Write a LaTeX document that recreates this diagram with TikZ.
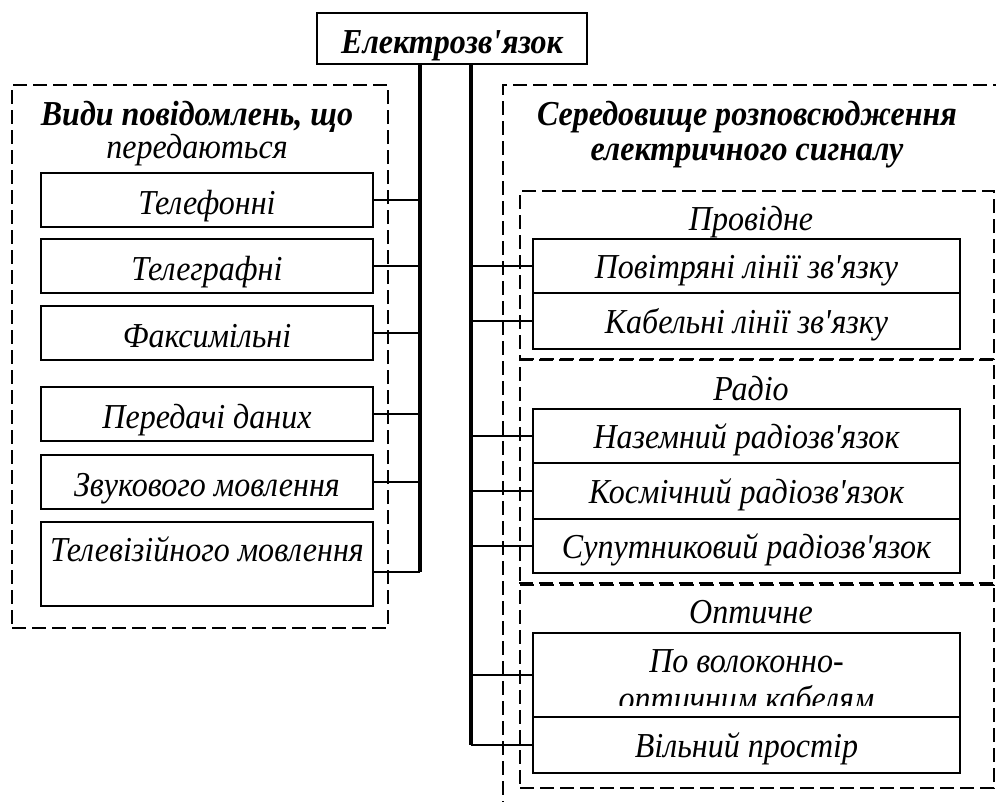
\documentclass[tikz,border=0pt]{standalone}
\usepackage{fontspec}
\setmainfont{Liberation Serif}[FakeStretch=0.915]
\newcommand{\schrift}{\fontsize{35}{35}\selectfont}
\tikzset{kasten/.style = {
    shape=rectangle, draw=black, line width=1.8pt, fill=white,
    inner sep=0pt, font=\schrift\itshape
}}
\tikzset{links/.style = {kasten, minimum width=332pt, minimum height=54pt,
    text height=32pt, text depth=4pt}}
\tikzset{rechts/.style = {kasten, minimum width=427pt, minimum height=54pt,
    text height=30pt, text depth=6pt}}
\tikzset{gruppe/.style = {
    shape=rectangle, draw=black, line width=1.5pt,
    dash pattern=on 14pt off 6pt
}}
\tikzset{titel/.style = {font=\schrift\bfseries\itshape, align=center, anchor=base}}
\tikzset{beschrift/.style = {font=\schrift\itshape, align=center, anchor=base}}
\tikzset{ast/.style = {line width=4.5pt}}
\tikzset{zweig/.style = {line width=1.8pt}}

\begin{document}
\begin{tikzpicture}[x=1pt,y=-1pt]
  \useasboundingbox (0,0) rectangle (996,801);
  \clip (0,0) rectangle (996,801);
  % Gruppen
  \node (gl) at (200,356.5) [gruppe, minimum width=376pt, minimum height=543pt] {};
  \node (gr) at (756.5,450) [gruppe, minimum width=507pt, minimum height=730pt] {};
  \node (prov) at (757,275) [gruppe, minimum width=474pt, minimum height=168pt] {};
  \node (radio) at (757,472.5) [gruppe, minimum width=474pt, minimum height=225pt] {};
  \node (opt) at (757,685.5) [gruppe, minimum width=474pt, minimum height=205pt] {};
  \node (tl) at (197,158) [titel] {Види повідомлень, що\\[-2pt]\mdseries передаються};
  \node (tr) at (747,160) [titel] {Середовище розповсюдження\\електричного сигналу};
  \node (lprov) at (751,230) [beschrift] {Провідне};
  \node (lradio) at (751,400) [beschrift] {Радіо};
  \node (lopt) at (751,623) [beschrift] {Оптичне};
  % Kopf und Stämme
  \node (ek) at (452,38.5) [kasten, line width=2pt, minimum width=270pt, minimum height=51pt,
    text height=31pt, text depth=2pt, font=\schrift\bfseries\itshape] {Електрозв\textquotesingle язок};
  \coordinate (sl) at (420,572);
  \coordinate (sr) at (471,745);
  \draw[ast] (ek.south -| sl) -- (sl);
  \draw[ast] (ek.south -| sr) -- (sr);
  % linke Seite
  \node (tel) at (207,200) [links] {Телефонні};
  \node (tlg) at (207,266) [links] {Телеграфні};
  \node (fax) at (207,333) [links] {Факсимільні};
  \node (dat) at (207,414) [links] {Передачі даних};
  \node (zvuk) at (207,482) [links] {Звукового мовлення};
  \node (tv) at (207,564) [links, minimum height=84pt, text height=24pt, text depth=30pt] {Телевізійного мовлення};
  \draw[zweig] (tel.east) -- (tel.east -| sl);
  \draw[zweig] (tlg.east) -- (tlg.east -| sl);
  \draw[zweig] (fax.east) -- (fax.east -| sl);
  \draw[zweig] (dat.east) -- (dat.east -| sl);
  \draw[zweig] (zvuk.east) -- (zvuk.east -| sl);
  \draw[zweig] (tv.east |- sl) -- (sl);
  % rechte Seite
  \node (pov) at (746.5,266) [rechts] {Повітряні лінії зв\textquotesingle язку};
  \node (kab) at (746.5,321) [rechts, minimum height=56pt] {Кабельні лінії зв\textquotesingle язку};
  \node (naz) at (746.5,436) [rechts] {Наземний радіозв\textquotesingle язок};
  \node (kos) at (746.5,491) [rechts, minimum height=56pt] {Космічний радіозв\textquotesingle язок};
  \node (sup) at (746.5,546) [rechts] {Супутниковий радіозв\textquotesingle язок};
  \node (volo) at (746.5,675) [rechts, minimum height=84pt] {};
  \begin{scope}
    \clip (533,633) rectangle (960,705);
    \node (volotext) at (746.5,710) [beschrift] {По волоконно-\\[3pt]оптичним кабелям};
  \end{scope}
  \node (vil) at (746.5,745) [rechts, minimum height=56pt] {Вільний простір};
  \draw[zweig] (pov.west -| sr) -- (pov.west);
  \draw[zweig] (kab.west -| sr) -- (kab.west);
  \draw[zweig] (naz.west -| sr) -- (naz.west);
  \draw[zweig] (kos.west -| sr) -- (kos.west);
  \draw[zweig] (sup.west -| sr) -- (sup.west);
  \draw[zweig] (volo.west -| sr) -- (volo.west);
  \draw[zweig] (sr) -- (vil.west);
\end{tikzpicture}
\end{document}
